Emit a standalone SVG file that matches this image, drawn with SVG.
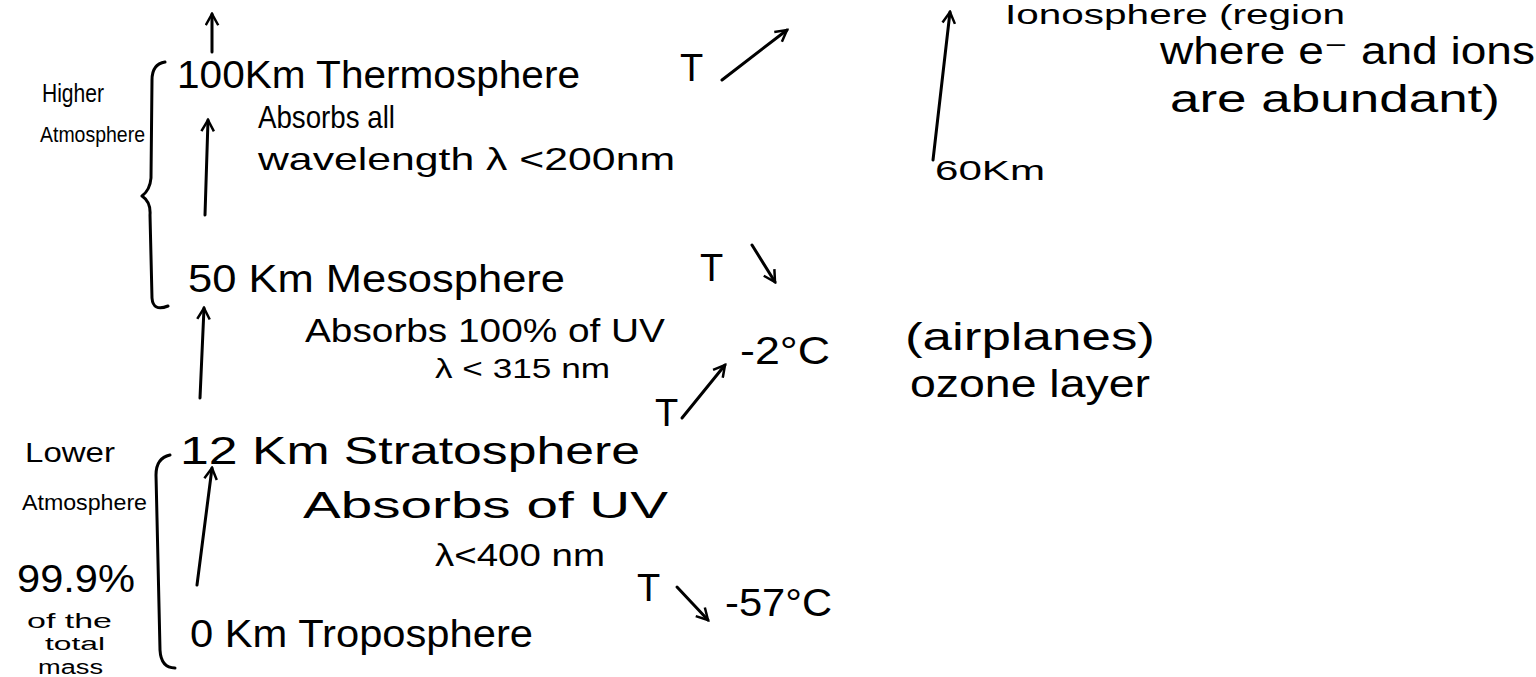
<svg xmlns="http://www.w3.org/2000/svg" width="1536" height="677" viewBox="0 0 1536 677">
<style>
text{font-family:"Liberation Sans","DejaVu Sans",sans-serif;fill:#000}
.m{font-size:38px}
.s{font-size:32px}
.xs{font-size:22px}
.c{stroke:#000;stroke-width:3;fill:none;stroke-linecap:round;stroke-linejoin:round}
</style>
<defs>
<marker id="ah" viewBox="0 0 12 12" refX="10" refY="6" markerWidth="5" markerHeight="5" orient="auto" markerUnits="strokeWidth">
<path d="M1,1 L10,6 L1,11" fill="none" stroke="#000" stroke-width="2"/>
</marker>
</defs>
<rect width="1536" height="677" fill="#fff"/>
<g id="connectors" class="c">
<path d="M212,52 L212,14" marker-end="url(#ah)"/>
<path d="M205,215 L208,120" marker-end="url(#ah)"/>
<path d="M200,398 L204,308" marker-end="url(#ah)"/>
<path d="M197,585 L212,468" marker-end="url(#ah)"/>
<path d="M933,160 L950,12" marker-end="url(#ah)"/>
<path d="M722,80 L787,30" marker-end="url(#ah)"/>
<path d="M752,245 L775,282" marker-end="url(#ah)"/>
<path d="M682,418 L725,365" marker-end="url(#ah)"/>
<path d="M677,587 L708,620" marker-end="url(#ah)"/>
</g>
<g id="higher-atmosphere">
<path class="c" d="M165,62 Q152,64 152,80 L151,178 Q150,190 142,196 Q151,202 150,215 L152,298 Q153,312 168,306"/>
<text x="42" y="102" textLength="62" lengthAdjust="spacingAndGlyphs" style="font-size:26px">Higher</text>
<text class="xs" x="40" y="142" textLength="105" lengthAdjust="spacingAndGlyphs">Atmosphere</text>
</g>
<g id="lower-atmosphere">
<path class="c" d="M170,455 Q156,458 156,475 L157,518 L160,650 Q161,668 175,668"/>
<text x="25" y="462" textLength="90" lengthAdjust="spacingAndGlyphs" style="font-size:28px">Lower</text>
<text class="xs" x="22" y="510" textLength="125" lengthAdjust="spacingAndGlyphs">Atmosphere</text>
<text class="m" x="17" y="592" textLength="118" lengthAdjust="spacingAndGlyphs">99.9%</text>
<text x="27" y="628" style="font-size:20px" textLength="85" lengthAdjust="spacingAndGlyphs">of the</text>
<text x="45" y="650" style="font-size:18px" textLength="60" lengthAdjust="spacingAndGlyphs">total</text>
<text x="38" y="674" style="font-size:20px" textLength="65" lengthAdjust="spacingAndGlyphs">mass</text>
</g>
<g id="thermosphere">
<text class="m" x="177" y="88" textLength="403" lengthAdjust="spacingAndGlyphs">100Km Thermosphere</text>
<text class="s" x="258" y="128" textLength="137" lengthAdjust="spacingAndGlyphs">Absorbs all</text>
<text class="s" x="258" y="170" textLength="417" lengthAdjust="spacingAndGlyphs">wavelength λ &lt;200nm</text>
<text class="m" x="680" y="81">T</text>
</g>
<g id="ionosphere">
<text x="1005" y="24" style="font-size:28px" textLength="340" lengthAdjust="spacingAndGlyphs">Ionosphere (region</text>
<text class="m" x="1160" y="64" textLength="375" lengthAdjust="spacingAndGlyphs">where e⁻ and ions</text>
<text class="m" x="1170" y="112" textLength="330" lengthAdjust="spacingAndGlyphs">are abundant)</text>
<text x="935" y="180" style="font-size:28px" textLength="110" lengthAdjust="spacingAndGlyphs">60Km</text>
</g>
<g id="mesosphere">
<text class="m" x="188" y="292" textLength="377" lengthAdjust="spacingAndGlyphs">50 Km Mesosphere</text>
<text x="305" y="342" style="font-size:34px" textLength="360" lengthAdjust="spacingAndGlyphs">Absorbs 100% of UV</text>
<text x="435" y="378" style="font-size:28px" textLength="175" lengthAdjust="spacingAndGlyphs">λ &lt; 315 nm</text>
<text class="m" x="700" y="281">T</text>
</g>
<g id="stratosphere">
<text class="m" x="180" y="464" textLength="460" lengthAdjust="spacingAndGlyphs">12 Km Stratosphere</text>
<text x="303" y="518" style="font-size:36px" textLength="365" lengthAdjust="spacingAndGlyphs">Absorbs of UV</text>
<text class="s" x="435" y="566" textLength="170" lengthAdjust="spacingAndGlyphs">λ&lt;400 nm</text>
<text class="m" x="655" y="426">T</text>
<text class="m" x="740" y="364" textLength="90" lengthAdjust="spacingAndGlyphs">-2°C</text>
<text class="m" x="905" y="350" textLength="250" lengthAdjust="spacingAndGlyphs">(airplanes)</text>
<text class="m" x="910" y="397" textLength="240" lengthAdjust="spacingAndGlyphs">ozone layer</text>
</g>
<g id="troposphere">
<text class="m" x="190" y="647" textLength="343" lengthAdjust="spacingAndGlyphs">0 Km Troposphere</text>
<text class="m" x="637" y="601">T</text>
<text class="m" x="725" y="616" textLength="107" lengthAdjust="spacingAndGlyphs">-57°C</text>
</g>
</svg>
